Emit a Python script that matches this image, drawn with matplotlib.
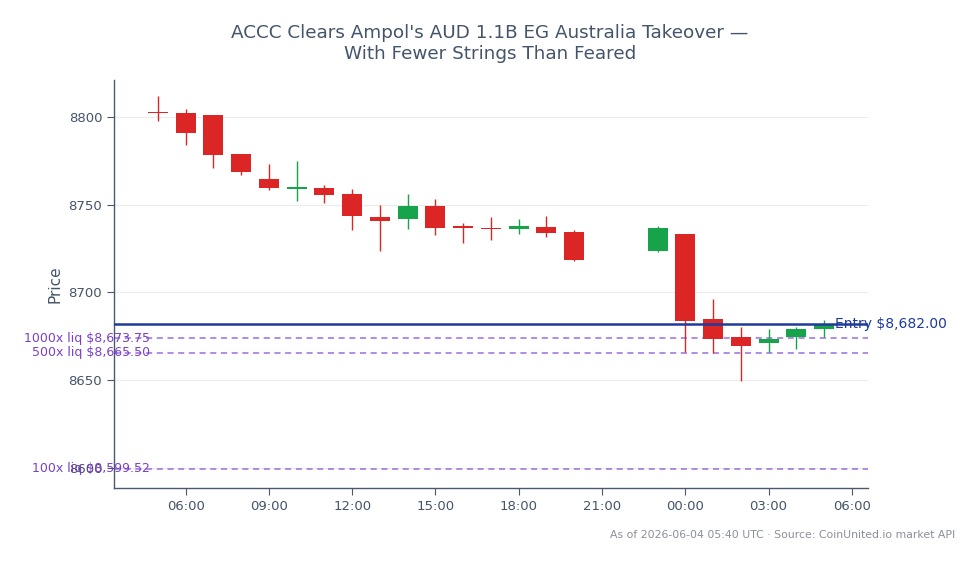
import numpy as np
import pandas as pd
import matplotlib
matplotlib.use("Agg")
import matplotlib.pyplot as plt
import matplotlib.dates as mdates
import matplotlib.transforms as mtransforms

## hourly candles, 2026-06-03 05:00 -> 2026-06-04 05:00 (gap 21:00-22:00)
times = pd.to_datetime([
    "2026-06-03 05:00", "2026-06-03 06:00", "2026-06-03 07:00", "2026-06-03 08:00",
    "2026-06-03 09:00", "2026-06-03 10:00", "2026-06-03 11:00", "2026-06-03 12:00",
    "2026-06-03 13:00", "2026-06-03 14:00", "2026-06-03 15:00", "2026-06-03 16:00",
    "2026-06-03 17:00", "2026-06-03 18:00", "2026-06-03 19:00", "2026-06-03 20:00",
    "2026-06-03 23:00", "2026-06-04 00:00", "2026-06-04 01:00", "2026-06-04 02:00",
    "2026-06-04 03:00", "2026-06-04 04:00", "2026-06-04 05:00",
])
opens = [8802.8, 8802.0, 8801.1, 8778.9, 8764.6, 8759.0, 8759.5, 8756.1,
         8742.9, 8742.0, 8749.3, 8737.9, 8736.8, 8735.9, 8737.3, 8734.6,
         8723.3, 8733.3, 8684.9, 8674.6, 8671.0, 8674.5, 8679.0]
highs = [8811.6, 8804.6, 8801.3, 8779.0, 8773.2, 8774.9, 8761.3, 8759.0,
         8749.9, 8756.1, 8753.3, 8739.8, 8742.7, 8741.9, 8743.8, 8735.8,
         8738.1, 8733.4, 8696.3, 8680.3, 8679.2, 8680.5, 8684.3]
lows = [8797.9, 8783.7, 8770.6, 8766.6, 8758.4, 8751.8, 8751.2, 8735.3,
        8723.8, 8736.2, 8732.8, 8728.4, 8730.0, 8733.0, 8731.3, 8718.1,
        8723.2, 8665.9, 8665.5, 8649.6, 8665.9, 8667.8, 8674.5]
closes = [8802.2, 8790.7, 8778.0, 8768.3, 8759.2, 8760.0, 8755.2, 8743.3,
          8740.6, 8749.3, 8736.9, 8736.4, 8735.9, 8737.9, 8734.1, 8718.7,
          8736.8, 8683.9, 8673.7, 8669.7, 8673.5, 8679.1, 8682.1]

entry_price = 8682.00
liq_levels = [8673.75, 8665.50, 8599.52]
liq_labels = ["1000x liq $8,673.75", "500x liq $8,665.50", "100x liq $8,599.52"]

title = "ACCC Clears Ampol's AUD 1.1B EG Australia Takeover \u2014\nWith Fewer Strings Than Feared"
footer = "As of 2026-06-04 05:40 UTC \u00b7 Source: CoinUnited.io market API"

UP = "#16a34a"
DOWN = "#dc2626"
TXT = "#44546a"
LIQ = "#9b6ee0"
LIQ_TXT = "#7b3fc9"
ENTRY = "#1e3a9a"

fig = plt.figure(figsize=(9.8, 5.64), dpi=100)
ax = fig.add_axes([0.1163, 0.1348, 0.7694, 0.7234])

x = mdates.date2num(times)
w = 0.72 / 24
for xi, o, h, l, c in zip(x, opens, highs, lows, closes):
    col = UP if c >= o else DOWN
    ax.vlines(xi, l, h, color=col, linewidth=1, zorder=3)
    bottom = min(o, c)
    height = max(abs(c - o), 0.6)
    ax.bar(xi, height, width=w, bottom=bottom, color=col, zorder=3, linewidth=0)

ax.axhline(entry_price, color=ENTRY, linewidth=1.8, zorder=4)
ax.annotate("Entry $8,682.00", xy=(x[-1], entry_price), xytext=(8, 0),
            textcoords="offset points", ha="left", va="center",
            color=ENTRY, fontsize=10, zorder=5, annotation_clip=False)

# liquidation levels, labels sit just inside the left spine (they overlap the ticks in the original too)
trans = mtransforms.blended_transform_factory(ax.transAxes, ax.transData)
for lv, lab in zip(liq_levels, liq_labels):
    ax.axhline(lv, color=LIQ, linewidth=1.1, linestyle=(0, (4, 3)), zorder=2)
    ax.text(0.048, lv, lab, transform=trans, ha="right", va="center",
            color=LIQ_TXT, fontsize=9, zorder=5)

ax.set_xlim(mdates.date2num(pd.Timestamp("2026-06-03 03:25")),
            mdates.date2num(pd.Timestamp("2026-06-04 06:35")))
ax.set_ylim(8588.6, 8821.0)
ax.set_yticks([8600, 8650, 8700, 8750, 8800])
ax.xaxis.set_major_locator(mdates.HourLocator(byhour=range(0, 24, 3)))
ax.xaxis.set_major_formatter(mdates.DateFormatter("%H:%M"))

ax.grid(axis="y", color="#ececec", linewidth=0.8, zorder=0)
ax.grid(axis="x", visible=False)
for s in ["top", "right"]:
    ax.spines[s].set_visible(False)
for s in ["left", "bottom"]:
    ax.spines[s].set_color("#4a5a6e")
    ax.spines[s].set_linewidth(1)
ax.tick_params(colors=TXT, labelsize=9.5, length=5, color="#4a5a6e")
ax.set_ylabel("Price", color=TXT, fontsize=11)

fig.text(0.5, 0.958, title, ha="center", va="top", color=TXT, fontsize=13.2, linespacing=1.22)
fig.text(0.975, 0.052, footer, ha="right", va="center", color="#8a8f99", fontsize=7.85)

fig.savefig("out.png", dpi=100)
